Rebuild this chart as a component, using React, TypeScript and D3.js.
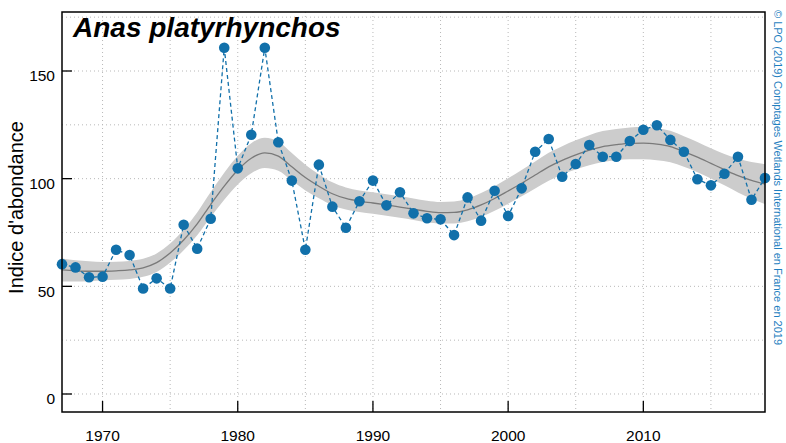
import React from 'react';
import * as d3 from 'd3';

const years = [
  1967, 1968, 1969, 1970, 1971, 1972, 1973, 1974, 1975, 1976, 1977, 1978, 1979,
  1980, 1981, 1982, 1983, 1984, 1985, 1986, 1987, 1988, 1989, 1990, 1991, 1992,
  1993, 1994, 1995, 1996, 1997, 1998, 1999, 2000, 2001, 2002, 2003, 2004, 2005,
  2006, 2007, 2008, 2009, 2010, 2011, 2012, 2013, 2014, 2015, 2016, 2017, 2018, 2019,
];

const indexValues = [
  60.3, 58.8, 54.2, 54.5, 67, 64.5, 49, 53.7, 49, 78.6, 67.5, 81.4, 160.8,
  104.8, 120.4, 160.8, 116.9, 99.1, 67, 106.5, 87, 77.2, 89.5, 99.1, 87.6, 93.7,
  83.9, 81.6, 81.1, 73.8, 91.3, 80.5, 94.4, 82.7, 95.5, 112.5, 118.4, 100.9, 106.8,
  115.6, 110.2, 110.2, 117.5, 122.7, 124.8, 118, 112.5, 99.7, 96.9, 102.3, 110.2, 90.2, 100.3,
];

const smoothValues = [
  57.6, 57.2, 57, 57, 57.2, 57.6, 58.6, 61, 65.5, 71.5, 79, 88, 96.5,
  104, 109.5, 112, 110.5, 105.5, 100.5, 96.5, 93, 90.8, 89.5, 88.7, 87.8, 86.8,
  85.8, 84.8, 84.2, 84.3, 85.5, 87.8, 90.8, 94.3, 97.9, 101.7, 105.5, 108.5, 111,
  113.2, 114.9, 115.8, 116.4, 116.5, 116, 114.9, 112.6, 110, 107.1, 104.2, 101.4, 99.2, 97.5,
];

const bandHalfWidth = [
  5.3, 4.9, 4.6, 4.3, 4.2, 4.2, 4.2, 4.3, 4.4, 4.8, 5.3, 5.8, 6.3,
  6.7, 7, 7, 6.8, 6.4, 6, 5.6, 5.3, 5.1, 5, 5, 5, 5,
  5, 5, 5, 5.1, 5.3, 5.5, 5.7, 5.9, 6.1, 6.3, 6.5, 6.6, 6.8,
  7, 7.2, 7.3, 7.4, 7.5, 7.4, 7.3, 7.1, 7, 7, 7.3, 7.8, 8.5, 9.3,
];

const yTickValues = [0, 50, 100, 150];
const yGridValues = [0, 25, 50, 75, 100, 125, 150, 175];
const xTickValues = [1970, 1980, 1990, 2000, 2010];
const xGridValues = [1970, 1975, 1980, 1985, 1990, 1995, 2000, 2005, 2010, 2015];

const titleText = 'Anas platyrhynchos';
const yLabelText = "Indice d'abondance";
const creditText = '© LPO (2019) Comptages Wetlands International en France en 2019';

const W = 786;
const H = 443;
const L = 62;
const R = 765;
const T = 12;
const B = 412;

const BLUE = '#1170aa';
const FONT = '"Liberation Sans", Arial, Helvetica, sans-serif';

export default function App() {
  const x = d3.scaleLinear().domain([1967, 2019]).range([L, R]);
  const y = d3.scaleLinear().domain([-8.36, 177.4]).range([B, T]);

  const rows = years.map((yr, i) => ({
    yr,
    v: indexValues[i],
    s: smoothValues[i],
    lo: smoothValues[i] - bandHalfWidth[i],
    hi: smoothValues[i] + bandHalfWidth[i],
  }));

  const area = d3
    .area<any>()
    .x((d) => x(d.yr))
    .y0((d) => y(d.lo))
    .y1((d) => y(d.hi))
    .curve(d3.curveMonotoneX);
  const smoothLine = d3
    .line<any>()
    .x((d) => x(d.yr))
    .y((d) => y(d.s))
    .curve(d3.curveMonotoneX);
  const dataLine = d3
    .line<any>()
    .x((d) => x(d.yr))
    .y((d) => y(d.v));

  return (
    <svg
      width={W}
      height={H}
      style={{ position: 'absolute', left: 0, top: 0, background: '#fff' }}
      fontFamily={FONT}
    >
      <defs>
        <clipPath id="plotClip">
          <rect x={L} y={T} width={R - L} height={B - T} />
        </clipPath>
      </defs>
      <rect x={0} y={0} width={W} height={H} fill="#fff" />

      {/* grid */}
      <g stroke="#b8b8b8" strokeWidth={1} strokeDasharray="1,3">
        {yGridValues.map((v) => (
          <line key={'gy' + v} x1={L} x2={R} y1={y(v)} y2={y(v)} />
        ))}
        {xGridValues.map((v) => (
          <line key={'gx' + v} x1={x(v)} x2={x(v)} y1={T} y2={B} />
        ))}
      </g>

      <g clipPath="url(#plotClip)">
        <path d={area(rows) || ''} fill="#cccccc" stroke="none" />
        <path d={smoothLine(rows) || ''} fill="none" stroke="#7a7a7a" strokeWidth={1.3} />
        <path
          d={dataLine(rows) || ''}
          fill="none"
          stroke={BLUE}
          strokeWidth={1.3}
          strokeDasharray="4,3"
        />
      </g>
      <g fill={BLUE}>
        {rows.map((d) => (
          <circle key={'p' + d.yr} cx={x(d.yr)} cy={y(d.v)} r={5.3} />
        ))}
      </g>

      {/* frame */}
      <rect x={L} y={T} width={R - L} height={B - T} fill="none" stroke="#000" strokeWidth={1.5} />

      {/* ticks */}
      <g stroke="#000" strokeWidth={1.3}>
        {yTickValues.map((v) => (
          <line key={'ty' + v} x1={L} x2={L + 10} y1={y(v)} y2={y(v)} />
        ))}
        {xTickValues.map((v) => (
          <line key={'tx' + v} x1={x(v)} x2={x(v)} y1={B} y2={B - 11} />
        ))}
      </g>
      <g fontSize={15.5} fill="#000">
        {yTickValues.map((v) => (
          <text key={'ly' + v} x={55} y={y(v) + 10.3} textAnchor="end">
            {v}
          </text>
        ))}
        {xTickValues.map((v) => (
          <text key={'lx' + v} x={x(v)} y={441} textAnchor="middle">
            {v}
          </text>
        ))}
      </g>

      <text
        transform={`translate(22.5, 207.5) rotate(-90)`}
        textAnchor="middle"
        fontSize={20}
        fill="#000"
      >
        {yLabelText}
      </text>

      <text x={73} y={37} fontSize={28} fontWeight="bold" fontStyle="italic" fill="#000">
        {titleText}
      </text>

      <text
        transform={`translate(774, 10) rotate(90)`}
        textAnchor="start"
        fontSize={11}
        fill="#1f7fbf"
      >
        {creditText}
      </text>
    </svg>
  );
}
